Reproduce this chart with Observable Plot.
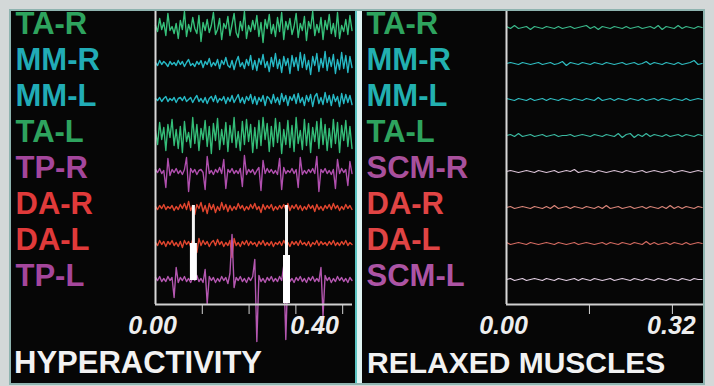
<!DOCTYPE html>
<html>
<head>
<meta charset="utf-8">
<script src="https://cdn.jsdelivr.net/npm/d3@7"></script>
<script src="https://cdn.jsdelivr.net/npm/@observablehq/plot@0.6"></script>
<style>
  html, body { margin: 0; padding: 0; }
  body { width: 714px; height: 386px; background: #d3d8d8; position: relative; overflow: hidden; font-family: "Liberation Sans", Arial, sans-serif; }
  #wrap { position: absolute; left: 9px; top: 9px; width: 692px; height: 372px; border: 2px solid #8fb4b0; background: #060606; display: flex; }
  .panel { height: 372px; background: #060606; display: flex; flex-direction: column; }
  #left { width: 344px; }
  #divider { width: 7px; background: #dff3f2; border-left: 2px solid #5cc4c2; box-sizing: border-box; }
  #right { width: 341px; }
  .title { font-family: "Liberation Sans", Arial, sans-serif; font-weight: bold; font-size: 31px; line-height: 36px; color: #f2f2f2; white-space: nowrap; }
  #left .title { padding-left: 3px; }
  #right .title { padding-left: 5px; font-size: 30px; }
  svg { display: block; }
</style>
</head>
<body>
<div id="wrap">
  <div class="panel" id="left"></div>
  <div id="divider"></div>
  <div class="panel" id="right"></div>
</div>
<script>
// ---------- channel names ----------
const hyperChannels = ["TA-R", "MM-R", "MM-L", "TA-L", "TP-R", "DA-R", "DA-L", "TP-L"];
const relaxChannels = ["TA-R", "MM-R", "MM-L", "TA-L", "SCM-R", "DA-R", "DA-L", "SCM-L"];

// ---------- hyperactivity traces (deflection, ~px units), 96 samples each ----------
const hyperTAR = [2,-4,9,-2,5,-8,14,-3,1,-6,4,-11, 7,-2,16,-9,3,-4,10,-1,-6,12,-14,5, -3,8,-5,2,15,-7,-2,9,-12,4,-1,11, -8,3,14,-5,-10,6,-3,16,-11,2,-4,7, -2,12,-9,5,-15,8,-1,13,-6,3,-9,10, -4,15,-12,6,-2,9,-7,1,14,-10,4,-3, 11,-13,6,-1,16,-8,3,-5,10,-12,7,-2, 13,-6,4,-9,15,-11,2,-4,8,-7,12,-3];
const hyperMMR = [1,-2,3,-1,2,0,-3,2,-1,1,-2,3, -1,2,-3,1,4,-2,0,-3,2,-1,3,-4, 2,-1,5,-3,1,-2,4,-5,3,-1,6,-2, -4,3,-6,2,7,-3,1,-5,4,-2,8,-6, 3,-7,5,-1,9,-4,2,-8,6,-3,10,-5, 4,-9,7,-2,5,-10,8,-3,6,-7,11,-4, 9,-6,3,-11,7,-2,10,-8,5,-4,12,-7, 6,-3,9,-10,4,-6,11,-5,8,-9,7,-4];
const hyperMML = [1,-1,2,-2,1,3,-2,1,-1,2,-3,1, 2,-1,3,-2,0,2,-3,1,4,-2,1,-3, 2,-4,1,3,-2,4,-3,1,-1,3,-4,2, -2,4,-3,1,5,-3,2,-4,3,-1,5,-4, 3,-5,2,-2,4,-6,3,1,-4,5,-3,2, -5,6,-2,4,-6,3,-1,5,-4,6,-3,2, -6,4,-2,5,-7,3,6,-4,2,-5,7,-3, 4,-6,5,-2,3,-7,6,-4,5,-3,4,-5];
const hyperTAL = [5,-9,13,-4,8,-15,11,-2,16,-10,6,-13, 9,-17,14,-6,3,-12,18,-8,11,-15,7,-4, 15,-11,9,-18,12,-5,17,-14,6,-9,13,-16, 10,-7,18,-12,4,-15,14,-9,16,-6,11,-17, 8,-13,15,-10,18,-4,12,-16,9,-11,17,-7, 13,-18,6,-9,15,-12,10,-16,18,-8,5,-14, 16,-10,12,-17,8,-6,14,-13,17,-9,11,-15, 7,-12,16,-8,13,-17,10,-5,15,-11,9,-13];
const hyperTPR = [2,-1,3,-2,1,-16,13,-4,2,-1,3,-2, 1,-3,2,14,-20,3,-1,2,-3,1,2,-1, -18,15,-2,1,-3,2,-1,4,-2,12,-17,2, -1,3,-2,1,-2,3,-15,16,-3,2,-1,2, -3,1,4,-19,11,-2,3,-1,2,-2,1,-3, 13,-18,4,-2,1,-1,3,-2,2,-16,14,-3, 1,-2,2,-1,3,-2,15,-20,2,-1,3,-2, 1,-3,2,-17,12,-2,3,-1,2,-14,10,-2];
const hyperDAR = [1,-2,2,-1,3,-2,1,-1,2,-3,1,-2, 3,-1,4,-2,6,-3,2,-7,3,-1,5,-4, 2,-6,4,-2,3,-5,1,-3,5,-2,3,-4, 2,-3,1,-2,4,-1,2,-3,1,-2,3,-1, 4,-2,1,-5,3,-2,2,-1,3,-3,1,-2, 2,-1,3,-2,4,-3,2,-1,3,-2,2,-3, 1,-2,3,-1,2,-4,3,-2,1,-3,2,-1, 3,-2,4,-1,2,-3,1,-2,3,-1,2,-2];
const hyperDAL = [1,-2,3,-1,2,-3,2,-1,3,-2,1,-3, 2,-4,3,-1,2,-3,4,-2,-9,5,-2,3, -1,2,-3,1,3,-2,4,-1,2,-3,1,-2, 3,-14,5,-2,1,-3,2,-1,3,-2,2,-1, 1,-3,2,-1,3,-2,1,-2,2,-3,1,-1, 2,-2,3,-1,1,-3,2,-1,2,-2,3,-1, 1,-2,2,-3,1,-1,3,-2,2,-1,1,-2, 2,-1,3,-2,1,-2,2,-1,3,-2,1,-1];
const hyperTPL = [2,-1,3,-2,1,-2,3,-1,2,-18,12,-3, 2,-1,3,-2,1,-3,2,-1,4,-2,1,-3, 10,-24,3,-1,2,-3,1,-2,3,-1,2,-4, 6,45,-8,2,-1,3,-2,1,-3,2,-1,3, 20,-62,4,-2,1,-3,2,-1,3,-2,1,-2, 3,-1,14,-60,8,-2,1,-3,2,-1,3,-2, 1,-3,2,-1,3,-2,1,-2,12,-36,4,-1, 2,-3,1,-2,3,-1,2,-2,1,-3,2,-1];

// ---------- relaxed traces, 50 samples each ----------
const relaxTAR  = [1,-1,2,-1,0,1,-2,1,0,-1, 1,0,-1,1,-1,0,1,-1,0,1, 2,-1,1,-2,1,0,-1,1,0,-1, 1,-1,0,1,-1,0,1,-1,2,-2, 1,0,-1,2,-1,1,0,-1,1,0];
const relaxMMR  = [0,1,0,-1,1,0,-1,0,1,-1, 0,1,-1,0,2,-2,1,0,-1,1, 0,-1,1,0,-1,1,0,-1,0,1, -1,0,1,-1,0,2,-1,1,0,-1, 1,0,-1,1,-1,0,1,3,-1,0];
const relaxMML  = [1,0,-1,1,0,-1,1,-1,0,1, -1,1,0,-1,1,0,-1,1,0,-1, 1,0,-1,2,-1,0,1,-1,1,0, -1,1,0,-1,1,-1,0,1,-1,1, 0,-1,1,0,-1,1,-1,0,1,0];
const relaxTAL  = [0,1,-1,2,-1,0,1,-1,0,1, -1,0,1,-1,0,0,1,-1,0,1, 0,-1,1,0,-1,1,0,-1,2,-2, 1,2,-2,1,-1,2,-1,1,0,-1, 1,-1,0,1,-1,1,0,-1,1,0];
const relaxSCMR = [0,1,0,-1,0,1,0,-1,1,0, -1,0,1,-1,0,1,0,2,-1,0, 1,0,-1,1,0,-1,0,1,0,-1, 1,0,-1,0,1,-1,0,1,0,-1, 0,1,-1,0,1,0,-1,0,1,0];
const relaxDAR  = [0,1,-1,0,1,0,-1,1,0,-1, 1,-1,2,-1,0,1,-1,1,0,-1, 1,0,-1,1,-1,2,-1,0,1,-1, 0,1,-1,0,1,-1,1,0,-1,1, -1,2,-1,1,-1,1,0,-1,1,0];
const relaxDAL  = [1,-1,0,1,0,-1,1,0,-1,0, 1,0,-1,1,0,-1,0,1,-1,0, 1,0,-1,0,1,-1,1,0,-1,1, 0,-1,1,0,-1,2,-1,1,-1,0, 1,-1,1,0,-1,1,-1,0,1,0];
const relaxSCML = [0,1,-1,0,1,-1,0,1,0,-1, 1,0,-1,1,0,-1,0,1,-1,1, 0,-1,1,0,-1,0,1,-1,0,1, 0,-1,1,0,-1,1,0,-1,1,0, -1,1,0,-1,1,0,-1,1,0,0];

// ---------- sampling / axes ----------
const hyperSampleStep = 0.00442;   // s per sample
const relaxSampleStep = 0.0077;
const hyperTicks = [0.1, 0.2, 0.3, 0.4];
const relaxTicks = [0.16, 0.32];
const hyperTickLabels = ["0.00", "0.40"];
const hyperTickValues = [0, 0.4];
const relaxTickLabels = ["0.00", "0.32"];
const relaxTickValues = [0, 0.32];

// white marker bars (time, top, bottom deflection in trace units)
const markerTimes   = [0.081, 0.081, 0.28, 0.28];
const markerTops    = [-178, -216, -178, -228];
const markerBottoms = [-253, -253, -276, -276];
const markerKinds   = ["thin", "thick", "thin", "thick"];

// ---------- styling ----------
const ROW = 36;
const hyperTraceColors = ["#36c07a", "#26b8c4", "#26b8c4", "#34bd78", "#b04fae", "#e0452e", "#e0452e", "#b457b0"];
const hyperLabelColors = ["#2ea35e", "#21acb6", "#21acb6", "#2ea35e", "#a4469c", "#e03a3a", "#e03a3a", "#a4469c"];
const relaxTraceColors = ["#3ab88a", "#2fbcc0", "#2fbcc0", "#3ab8a0", "#d8c0d4", "#d88478", "#d26a60", "#e0cce0"];
const relaxLabelColors = ["#2ea35e", "#22b0b0", "#22b0b0", "#2ea35e", "#a8509c", "#e04444", "#e04444", "#ac54a4"];

const yTop = 16, yBottom = -277;

function buildPanel({channels, signals, step, traceColors, labelColors, xMax, ticks, tickValues, tickLabels, lastDx, width, marginRight, strokeWidth, markers}) {
  const marks = [];
  signals.forEach((sig, row) => {
    const data = sig.map((v, i) => ({t: i * step, y: -ROW * row + v}));
    marks.push(Plot.line(data, {x: "t", y: "y", stroke: traceColors[row], strokeWidth, strokeLinejoin: "round"}));
  });
  if (markers) {
    const md = markerTimes.map((t, i) => ({t, y1: markerTops[i], y2: markerBottoms[i], kind: markerKinds[i]}));
    marks.push(Plot.ruleX(md.filter(d => d.kind === "thin"), {x: "t", y1: "y1", y2: "y2", stroke: "#f4f4f4", strokeWidth: 3}));
    marks.push(Plot.ruleX(md.filter(d => d.kind === "thick"), {x: "t", y1: "y1", y2: "y2", stroke: "#ffffff", strokeWidth: 7}));
  }
  marks.push(Plot.ruleX([0], {stroke: "#d8d8d8", strokeWidth: 2}));
  marks.push(Plot.ruleY([yBottom], {stroke: "#d0d0d0", strokeWidth: 2}));
  channels.forEach((name, row) => {
    marks.push(Plot.text([name], {
      y: () => -ROW * row, text: d => d, frameAnchor: "left", textAnchor: "start",
      dx: -140, dy: -3, fill: labelColors[row],
      fontFamily: "Liberation Sans", fontWeight: "bold", fontSize: 31
    }));
  });
  tickValues.forEach((v, i) => {
    marks.push(Plot.text([tickLabels[i]], {
      x: () => v, text: d => d, frameAnchor: "bottom", dy: 29,
      dx: i === tickValues.length - 1 ? lastDx : -3,
      fill: "#eeeeee", fontFamily: "Liberation Sans", fontWeight: "bold", fontStyle: "italic", fontSize: 25
    }));
  });
  return Plot.plot({
    width, height: 334,
    marginLeft: 144, marginRight, marginTop: 0, marginBottom: 41,
    style: {background: "transparent", color: "#d4d4d4", overflow: "visible"},
    x: {domain: [0, xMax], ticks, tickSize: 10, tickFormat: () => "", label: null},
    y: {domain: [yBottom, yTop], axis: null},
    marks
  });
}

const left = document.getElementById("left");
left.append(buildPanel({
  channels: hyperChannels,
  signals: [hyperTAR, hyperMMR, hyperMML, hyperTAL, hyperTPR, hyperDAR, hyperDAL, hyperTPL],
  step: hyperSampleStep, traceColors: hyperTraceColors, labelColors: hyperLabelColors,
  xMax: 0.421, ticks: hyperTicks, tickValues: hyperTickValues, tickLabels: hyperTickLabels, lastDx: -28,
  width: 344, marginRight: 3, strokeWidth: 1.4, markers: true
}));
const lt = document.createElement("div"); lt.className = "title"; lt.textContent = "HYPERACTIVITY"; left.append(lt);

const right = document.getElementById("right");
right.append(buildPanel({
  channels: relaxChannels,
  signals: [relaxTAR, relaxMMR, relaxMML, relaxTAL, relaxSCMR, relaxDAR, relaxDAL, relaxSCML],
  step: relaxSampleStep, traceColors: relaxTraceColors, labelColors: relaxLabelColors,
  xMax: 0.38, ticks: relaxTicks, tickValues: relaxTickValues, tickLabels: relaxTickLabels, lastDx: -1,
  width: 341, marginRight: 0, strokeWidth: 1.2, markers: false
}));
const rt = document.createElement("div"); rt.className = "title"; rt.textContent = "RELAXED MUSCLES"; right.append(rt);
</script>
</body>
</html>
